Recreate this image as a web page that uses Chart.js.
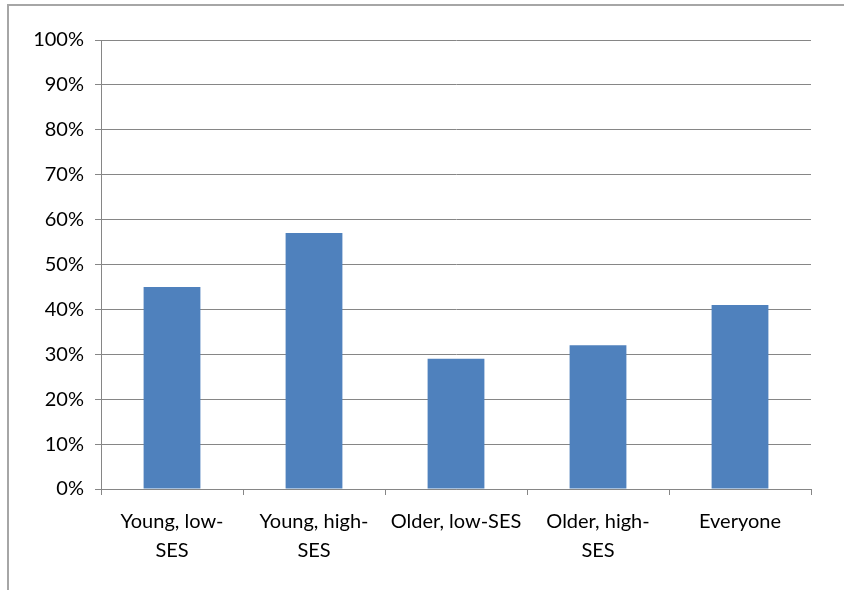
<!DOCTYPE html>
<html lang="en">
<head>
  <meta charset="UTF-8">
  <title>Share by group</title>
  <script src="https://cdn.jsdelivr.net/npm/chart.js"></script>
  <style>
    html, body { margin: 0; padding: 0; background: #fff; }
    #wrap { width: 844px; height: 590px; position: relative; }
  </style>
</head>
<body>
  <div id="wrap"><canvas id="chart" width="844" height="590"></canvas></div>

  <script>
    const categories = [
      ["Young, low-", "SES"],
      ["Young, high-", "SES"],
      "Older, low-SES",
      ["Older, high-", "SES"],
      "Everyone"
    ];
    const values = [45, 57, 29, 32, 41];
    const yTicks = [0, 10, 20, 30, 40, 50, 60, 70, 80, 90, 100];

    const axisGrey = "#868686";
    const font = { family: "Lato, 'Liberation Sans', sans-serif", size: 20 };

    // grey frame of the chart box, only left and top edges are inside the picture
    const frame = {
      id: "frame",
      beforeDraw(chart) {
        const ctx = chart.ctx;
        ctx.save();
        ctx.strokeStyle = "#a6a6a6";
        ctx.lineWidth = 2;
        ctx.strokeRect(8, 5, 900, 700);
        ctx.restore();
      }
    };

    new Chart(document.getElementById("chart"), {
      type: "bar",
      data: {
        labels: categories,
        datasets: [{
          data: values,
          backgroundColor: "#4F81BD",
          borderWidth: 0,
          barPercentage: 0.4,
          categoryPercentage: 1
        }]
      },
      plugins: [frame],
      options: {
        responsive: false,
        animation: false,
        layout: { padding: { left: 0, top: 40, right: 33, bottom: 0 } },
        plugins: {
          legend: { display: false },
          tooltip: { enabled: false }
        },
        scales: {
          x: {
            grid: {
              offset: true,
              drawOnChartArea: false,
              drawTicks: true,
              tickLength: 6,
              color: axisGrey
            },
            border: { display: true, color: axisGrey, width: 1 },
            ticks: {
              color: "#000",
              font: { ...font, lineHeight: 1.45 },
              padding: 12,
              maxRotation: 0,
              autoSkip: false
            },
            afterFit: s => { s.height = 101; }
          },
          y: {
            min: 0,
            max: 100,
            afterBuildTicks: s => { s.ticks = yTicks.map(v => ({ value: v })); },
            grid: {
              color: axisGrey,
              tickLength: 6,
              drawTicks: true
            },
            border: { display: true, color: axisGrey, width: 1 },
            ticks: {
              color: "#000",
              font,
              padding: 11,
              callback: value => value + "%"
            },
            afterFit: s => { s.width = 101; }
          }
        }
      }
    });
  </script>
</body>
</html>
